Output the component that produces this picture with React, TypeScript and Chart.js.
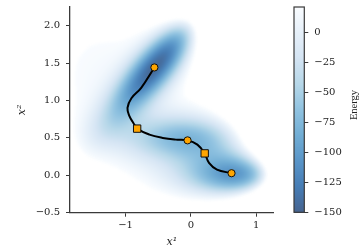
import React, { useEffect, useRef } from "react";
import { Chart, registerables } from "chart.js";

Chart.register(...registerables);

// ---- axes / ticks ----
const xTicks = [-1, 0, 1];
const yTicks = [-0.5, 0, 0.5, 1, 1.5, 2];
const cbTicks = [0, -25, -50, -75, -100, -125, -150];
const xRange = [-1.85, 1.27];
const yRange = [-0.5, 2.25];
const energyRange = [-150, 21];

// ---- Müller-Brown potential parameters (energy field) ----
const mbA = [-200, -100, -170, 15];
const mba = [-1, -1, -6.5, 0.7];
const mbb = [0, 0, 11, 0.6];
const mbc = [-10, -10, -6.5, 0.7];
const mbX0 = [1, 0, -0.5, -1];
const mbY0 = [0, 0.5, 1.5, 1];

// ---- minimum energy path ----
const pathX = [-0.558, -0.76, -0.91, -0.97, -0.94, -0.88, -0.822, -0.634, -0.43, -0.23, -0.05, 0.1, 0.212, 0.278, 0.4, 0.623];
const pathY = [1.442, 1.17, 1.03, 0.9, 0.79, 0.7, 0.624, 0.544, 0.5, 0.477, 0.467, 0.41, 0.293, 0.166, 0.076, 0.028];

// ---- stationary points ----
const minimaX = [-0.558, -0.05, 0.623];
const minimaY = [1.442, 0.467, 0.028];
const saddleX = [-0.822, 0.212];
const saddleY = [0.624, 0.293];

// matplotlib "Blues"
const bluesStops: number[][] = [
  [247, 251, 255],
  [222, 235, 247],
  [198, 219, 239],
  [158, 202, 225],
  [107, 174, 214],
  [66, 146, 198],
  [33, 113, 181],
  [8, 81, 156],
  [8, 48, 107],
];
const ALPHA = 0.75;

function energy(x: number, y: number): number {
  let v = 0;
  for (let i = 0; i < mbA.length; i++) {
    const dx = x - mbX0[i];
    const dy = y - mbY0[i];
    v += mbA[i] * Math.exp(mba[i] * dx * dx + mbb[i] * dx * dy + mbc[i] * dy * dy);
  }
  return v;
}

function bluesR(v: number): number[] {
  let n = (v - energyRange[0]) / (energyRange[1] - energyRange[0]);
  n = Math.max(0, Math.min(1, n));
  const t = (1 - n) * (bluesStops.length - 1);
  const i = Math.min(bluesStops.length - 2, Math.floor(t));
  const f = t - i;
  const a = bluesStops[i];
  const b = bluesStops[i + 1];
  return [0, 1, 2].map((k) => a[k] + (b[k] - a[k]) * f);
}

const minus = (s: string) => s.replace("-", "\u2212");
const tickFont = { family: "DejaVu Serif", size: 10 };
const AXIS = "#3a3a3a";
const TEXT = "#222";
const MARGIN = 8;

const heatPlugin = {
  id: "heat",
  beforeDatasetsDraw(chart: any) {
    const { ctx, chartArea: ca, scales } = chart;
    const w = Math.round(ca.right - ca.left) + 2 * MARGIN;
    const h = Math.round(ca.bottom - ca.top) + 2 * MARGIN;
    const off = document.createElement("canvas");
    off.width = w;
    off.height = h;
    const octx = off.getContext("2d")!;
    const img = octx.createImageData(w, h);
    for (let j = 0; j < h; j++) {
      const yv = scales.y.getValueForPixel(ca.top - MARGIN + j + 0.5);
      for (let i = 0; i < w; i++) {
        const xv = scales.x.getValueForPixel(ca.left - MARGIN + i + 0.5);
        const e = energy(xv, yv);
        const k = (j * w + i) * 4;
        if (e > energyRange[1]) {
          img.data[k + 3] = 0;
          continue;
        }
        const c = bluesR(e);
        img.data[k] = c[0];
        img.data[k + 1] = c[1];
        img.data[k + 2] = c[2];
        img.data[k + 3] = Math.round(255 * ALPHA);
      }
    }
    octx.putImageData(img, 0, 0);
    ctx.save();
    ctx.beginPath();
    ctx.rect(ca.left, ca.top, ca.right - ca.left, ca.bottom - ca.top);
    ctx.clip();
    ctx.filter = "blur(1.5px)";
    ctx.drawImage(off, ca.left - MARGIN, ca.top - MARGIN);
    ctx.filter = "none";
    ctx.restore();
  },
};

const cbPlugin = {
  id: "cb",
  beforeDatasetsDraw(chart: any) {
    const { ctx, chartArea: ca, scales } = chart;
    ctx.save();
    ctx.globalAlpha = ALPHA;
    for (let j = Math.floor(ca.top); j < Math.ceil(ca.bottom); j++) {
      const v = scales.y.getValueForPixel(j + 0.5);
      const c = bluesR(v);
      ctx.fillStyle = `rgb(${c[0]},${c[1]},${c[2]})`;
      ctx.fillRect(ca.left, j, ca.right - ca.left, 1);
    }
    ctx.restore();
  },
  afterDraw(chart: any) {
    const { ctx, chartArea: ca } = chart;
    ctx.save();
    ctx.strokeStyle = AXIS;
    ctx.lineWidth = 1.2;
    ctx.strokeRect(ca.left, ca.top, ca.right - ca.left, ca.bottom - ca.top);
    ctx.translate(74, 105);
    ctx.rotate(-Math.PI / 2);
    ctx.fillStyle = TEXT;
    ctx.font = "10.5px 'Liberation Serif'";
    ctx.textAlign = "center";
    ctx.textBaseline = "middle";
    ctx.fillText("Energy", 0, 0);
    ctx.restore();
  },
};

export default function App() {
  const mainRef = useRef<HTMLCanvasElement>(null);
  const cbRef = useRef<HTMLCanvasElement>(null);

  useEffect(() => {
    const pts = (xs: number[], ys: number[]) => xs.map((x, i) => ({ x, y: ys[i] }));
    const main = new Chart(mainRef.current!, {
      type: "scatter",
      data: {
        datasets: [
          {
            data: pts(minimaX, minimaY),
            pointStyle: "circle",
            pointRadius: 3.6,
            backgroundColor: "#ffa500",
            borderColor: "#111",
            borderWidth: 1,
          },
          {
            data: pts(saddleX, saddleY),
            pointStyle: "rect",
            pointRadius: 5.2,
            backgroundColor: "#ffa500",
            borderColor: "#111",
            borderWidth: 1,
          },
          {
            data: pts(pathX, pathY),
            showLine: true,
            tension: 0.4,
            borderColor: "#000",
            borderWidth: 2,
            pointRadius: 0,
          } as any,
        ],
      },
      options: {
        animation: false,
        responsive: false,
        events: [],
        layout: { padding: { top: 7, right: 4.3, left: 0, bottom: 0 } },
        plugins: { legend: { display: false }, tooltip: { enabled: false } },
        scales: {
          x: {
            type: "linear",
            min: xRange[0],
            max: xRange[1],
            afterBuildTicks: (s: any) => {
              s.ticks = xTicks.map((v) => ({ value: v }));
            },
            afterFit: (s: any) => {
              s.height = 38.3;
              s.paddingLeft = 0;
              s.paddingRight = 0;
            },
            grid: { drawOnChartArea: false, drawTicks: true, tickLength: 4, color: AXIS, lineWidth: 1 },
            border: { display: true, color: AXIS, width: 1.3 },
            ticks: {
              font: tickFont,
              color: TEXT,
              padding: 3,
              maxRotation: 0,
              callback: (v: any) => minus(String(v)),
            },
            title: {
              display: true,
              text: "x\u00B9",
              color: TEXT,
              font: { family: "DejaVu Serif", style: "italic", size: 11 },
              padding: { top: 0, bottom: 2.7 },
            },
          },
          y: {
            type: "linear",
            min: yRange[0],
            max: yRange[1],
            afterBuildTicks: (s: any) => {
              s.ticks = yTicks.map((v) => ({ value: v }));
            },
            afterFit: (s: any) => {
              s.width = 70;
              s.paddingTop = 0;
              s.paddingBottom = 0;
            },
            grid: { drawOnChartArea: false, drawTicks: true, tickLength: 4, color: AXIS, lineWidth: 1 },
            border: { display: true, color: AXIS, width: 1.3 },
            ticks: {
              font: tickFont,
              color: TEXT,
              padding: 6,
              callback: (v: any) => minus(Number(v).toFixed(1)),
            },
            title: {
              display: true,
              text: "x\u00B2",
              color: TEXT,
              font: { family: "DejaVu Serif", style: "italic", size: 11 },
              padding: { top: 16, bottom: 0 },
            },
          },
        },
      },
      plugins: [heatPlugin],
    } as any);

    const cb = new Chart(cbRef.current!, {
      type: "scatter",
      data: { datasets: [] },
      options: {
        animation: false,
        responsive: false,
        events: [],
        layout: { padding: { top: 7, right: 0, left: 14, bottom: 38.7 } },
        plugins: { legend: { display: false }, tooltip: { enabled: false } },
        scales: {
          x: { display: false, min: 0, max: 1 },
          y: {
            type: "linear",
            position: "right",
            min: energyRange[0],
            max: energyRange[1],
            afterBuildTicks: (s: any) => {
              s.ticks = cbTicks.map((v) => ({ value: v }));
            },
            afterFit: (s: any) => {
              s.width = 54.7;
              s.paddingTop = 0;
              s.paddingBottom = 0;
            },
            grid: { drawOnChartArea: false, drawTicks: true, tickLength: 4, color: AXIS, lineWidth: 1 },
            border: { display: false },
            ticks: {
              font: tickFont,
              color: TEXT,
              padding: 6,
              callback: (v: any) => minus(String(v)),
            },
          },
        },
      },
      plugins: [cbPlugin],
    } as any);

    return () => {
      main.destroy();
      cb.destroy();
    };
  }, []);

  return (
    <div style={{ position: "fixed", left: 0, top: 0, width: 359, height: 251, background: "#fff" }}>
      <canvas ref={mainRef} width={280} height={251} style={{ position: "absolute", left: 0, top: 0, width: 280, height: 251 }} />
      <canvas ref={cbRef} width={79} height={251} style={{ position: "absolute", left: 280, top: 0, width: 79, height: 251 }} />
    </div>
  );
}
